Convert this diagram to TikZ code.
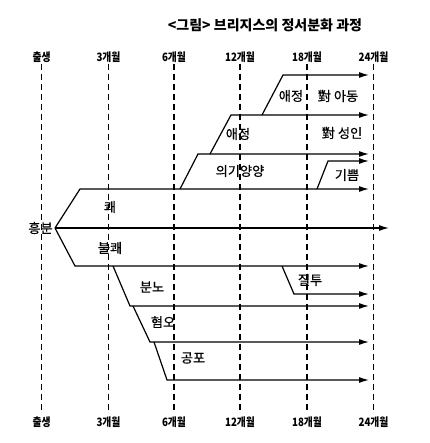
\documentclass[tikz,border=0pt]{standalone}
\usepackage{fontspec}
\newfontfamily\kr{Noto Sans CJK KR}
\newfontfamily\krl[FakeBold=0.6]{Noto Sans CJK KR}
\newfontfamily\krc[FakeStretch=0.85]{Noto Sans CJK KR}
\usetikzlibrary{arrows.meta}
\begin{document}
\begin{tikzpicture}[x=1pt,y=-1pt,
  tl/.style={font=\krc\bfseries\fontsize{11.5}{13}\selectfont, inner sep=1pt},
  lab/.style={font=\krl\fontsize{13.2}{15}\selectfont, inner sep=0pt},
  ttl/.style={font=\kr\bfseries\fontsize{14}{16}\selectfont, inner sep=0pt},
  vdash/.style={line width=1.1pt, dash pattern=on 6pt off 4pt},
  br/.style={line width=1.2pt, -{Latex[length=10pt,width=6pt]}}]
\useasboundingbox (0,0) rectangle (429,443);
\fill[white] (0,0) rectangle (429,443);
\node[ttl] (title) at (265,25) {<그림> 브리지스의 정서분화 과정};
% time axis
\foreach \n/\x/\t in {a/41.5/출생, b/108.5/3개월, c/174/6개월, d/240/12개월, e/307/18개월, f/373.5/24개월}{
  \node[tl] (top\n) at (\x,57) {\t};
  \node[tl] (bot\n) at (\x,422) {\t};
  \draw[vdash, shorten >=5pt] (top\n.south) -- (bot\n.north);
}
% root
\node[lab] (heung) at (40.5,228) {흥분};
\coordinate (R) at (55,228);
\coordinate (Rend) at (389,228);
\draw[br] (R) -- (Rend);
% pleasant
\coordinate (k1) at (80,189); \coordinate (kE) at (369,189);
\draw[br] (R) -- (k1) -- (kE);
\coordinate (e0) at (180,189); \coordinate (e1) at (198,154); \coordinate (eE) at (369,154);
\draw[br] (e0) -- (e1) -- (eE);
\coordinate (a0) at (210,154); \coordinate (a1) at (231,115); \coordinate (aE) at (369,115);
\draw[br] (a0) -- (a1) -- (aE);
\coordinate (c0) at (262,115); \coordinate (c1) at (283,75); \coordinate (cE) at (369,75);
\draw[br] (c0) -- (c1) -- (cE);
\coordinate (g0) at (317,189); \coordinate (g1) at (328,161); \coordinate (gE) at (369,161);
\draw[br] (g0) -- (g1) -- (gE);
% unpleasant
\coordinate (u1) at (75,266); \coordinate (uE) at (369,266);
\draw[br] (R) -- (u1) -- (uE);
\coordinate (n0) at (113,266); \coordinate (n1) at (130,306); \coordinate (nE) at (369,306);
\draw[br] (n0) -- (n1) -- (nE);
\coordinate (j0) at (282,266); \coordinate (j1) at (294,294); \coordinate (jE) at (369,294);
\draw[br] (j0) -- (j1) -- (jE);
\coordinate (h0) at (133,306); \coordinate (h1) at (150,342); \coordinate (hE) at (369,342);
\draw[br] (h0) -- (h1) -- (hE);
\coordinate (p0) at (154,342); \coordinate (p1) at (167,380); \coordinate (pE) at (369,380);
\draw[br] (p0) -- (p1) -- (pE);
% labels
\node[lab] (lk) at (110,207) {쾌};
\node[lab] (lu) at (110,248) {불쾌};
\node[lab] (ln) at (152,287) {분노};
\node[lab] (lj) at (310,280) {질투};
\node[lab] (lh) at (163,322) {혐오};
\node[lab] (lp) at (193,358) {공포};
\node[lab] (la1) at (291,96) {애정};
\node[lab] (lc) at (338,96) {對 아동};
\node[lab] (la2) at (238,134) {애정};
\node[lab] (ls) at (342,133) {對 성인};
\node[lab] (le) at (240,171) {의기양양};
\node[lab] (lg) at (347,175) {기쁨};
\end{tikzpicture}
\end{document}
